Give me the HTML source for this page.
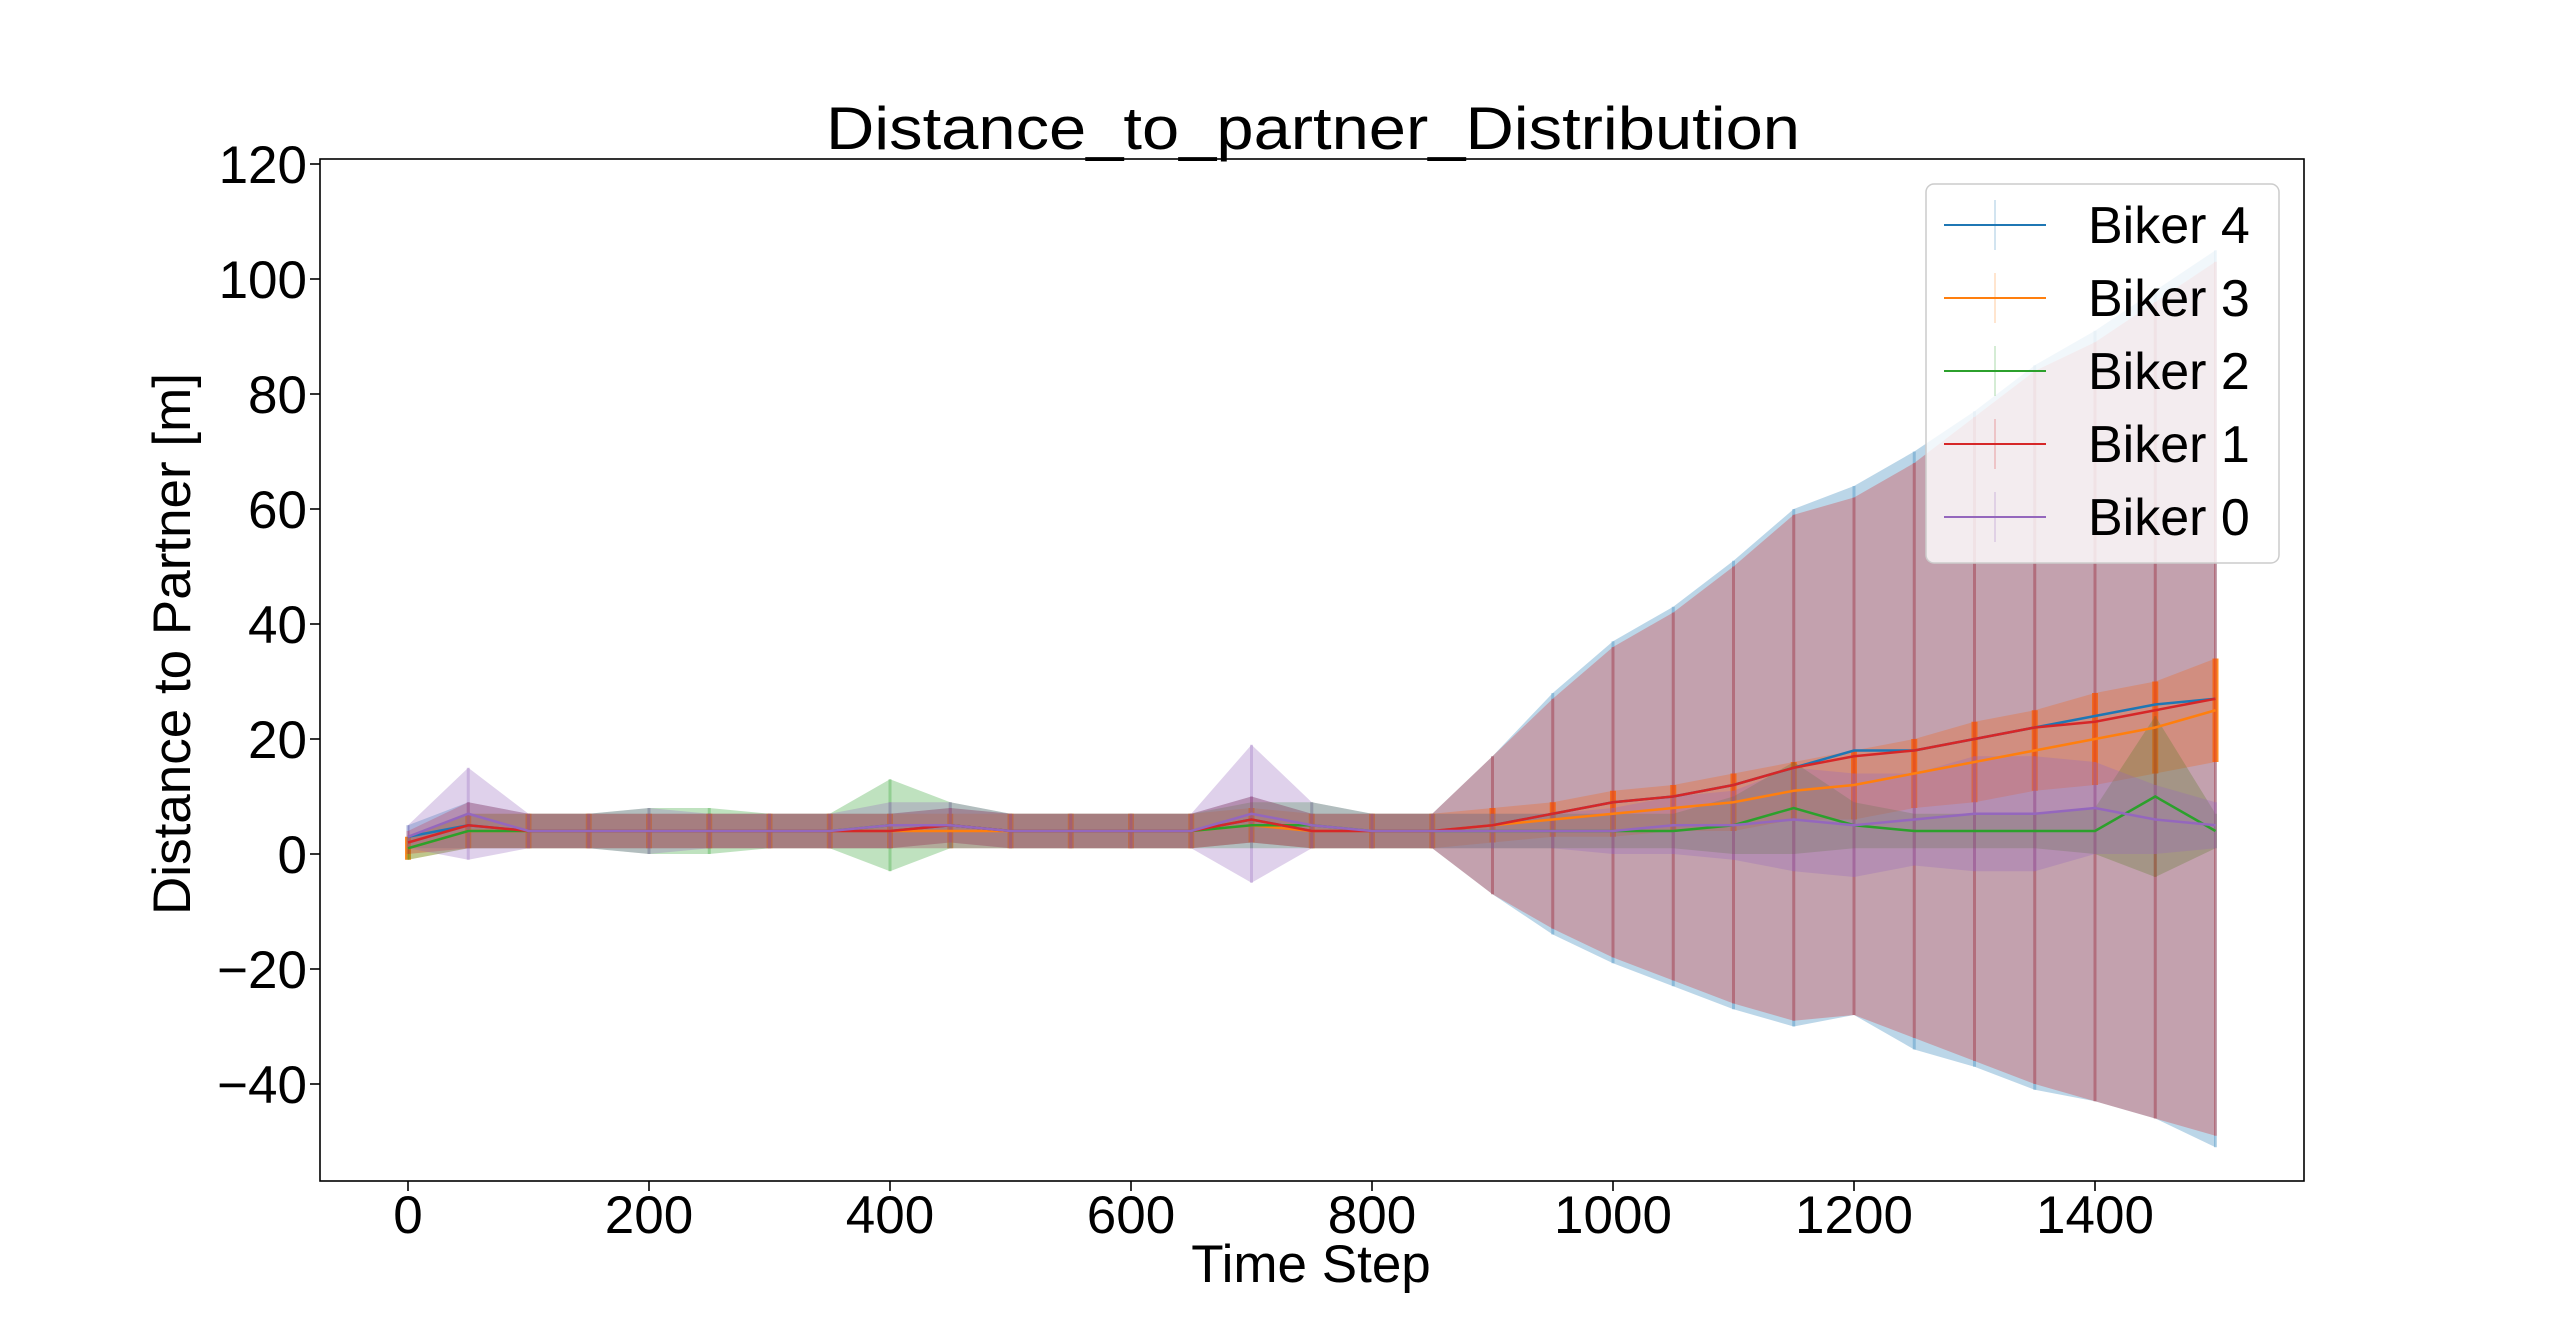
<!DOCTYPE html>
<html><head><meta charset="utf-8"><style>
html,body{margin:0;padding:0;background:#fff;}
svg{display:block;font-family:"Liberation Sans","DejaVu Sans",sans-serif;}
</style></head><body>
<svg id="chart" width="2560" height="1327" viewBox="0 0 2560 1327">
<text x="1313" y="149" font-size="60" text-anchor="middle" textLength="974" lengthAdjust="spacingAndGlyphs">Distance_to_partner_Distribution</text>
<g id="plot"></g>
<rect x="320" y="159" width="1984" height="1022" fill="none" stroke="#000" stroke-width="1.6"/>
<g id="ticks"></g>
<text x="1311" y="1282" font-size="53" text-anchor="middle">Time Step</text>
<text transform="translate(190,644) rotate(-90)" font-size="53" text-anchor="middle">Distance to Partner [m]</text>
<g id="legend"></g>
</svg>
<script>
const steps=[0,50,100,150,200,250,300,350,400,450,500,550,600,650,700,750,800,850,900,950,1000,1050,1100,1150,1200,1250,1300,1350,1400,1450,1500];
const names=["Biker 4","Biker 3","Biker 2","Biker 1","Biker 0"];
const colors=["#1f77b4","#ff7f0e","#2ca02c","#d62728","#9467bd"];
const mean4=[3,5,4,4,4,4,4,4,4,5,4,4,4,4,6,4,4,4,5,7,9,10,12,15,18,18,20,22,24,26,27];
const sd4=[2,4,3,3,3,3,3,3,3,3,3,3,3,3,4,3,3,3,12,21,28,33,39,45,46,52,57,63,67,72,78];
const mean3=[1,4,4,4,4,4,4,4,4,4,4,4,4,4,5,4,4,4,5,6,7,8,9,11,12,14,16,18,20,22,25];
const sd3=[2,3,3,3,3,3,3,3,3,3,3,3,3,3,3,3,3,3,3,3,4,4,5,5,6,6,7,7,8,8,9];
const mean2=[1,4,4,4,4,4,4,4,5,5,4,4,4,4,5,5,4,4,4,4,4,4,5,8,5,4,4,4,4,10,4];
const sd2=[2,3,3,3,4,4,3,3,8,4,3,3,3,3,4,4,3,3,3,3,3,3,5,8,4,3,3,3,4,14,3];
const mean1=[2,5,4,4,4,4,4,4,4,5,4,4,4,4,6,4,4,4,5,7,9,10,12,15,17,18,20,22,23,25,27];
const sd1=[2,4,3,3,3,3,3,3,3,3,3,3,3,3,4,3,3,3,12,20,27,32,38,44,45,50,56,62,66,71,76];
const mean0=[3,7,4,4,4,4,4,4,5,5,4,4,4,4,7,5,4,4,4,4,4,5,5,6,5,6,7,7,8,6,5];
const sd0=[2,8,3,3,4,3,3,3,4,4,3,3,3,3,12,4,3,3,3,3,4,5,6,9,9,8,10,10,8,6,4];
const xTicks=[0,200,400,600,800,1000,1200,1400];
const yTicks=[-40,-20,0,20,40,60,80,100,120];
const means=[mean4,mean3,mean2,mean1,mean0], sds=[sd4,sd3,sd2,sd1,sd0];
const NS="http://www.w3.org/2000/svg";
const X=v=>408+v*1.205, Y=v=>854-v*5.75;
function mk(t,a,p){const e=document.createElementNS(NS,t);for(const k in a)e.setAttribute(k,a[k]);p.appendChild(e);return e;}
const plot=document.getElementById('plot');
means.forEach((m,i)=>{
  const s=sds[i];
  let d="M"+steps.map((x,j)=>X(x)+","+Y(m[j]+s[j])).join(" L");
  d+=" L"+steps.slice().reverse().map((x,j)=>{const k=steps.length-1-j;return X(x)+","+Y(m[k]-s[k]);}).join(" L")+"Z";
  const p=mk('path',{d:d,fill:colors[i],'fill-opacity':0.3},plot);
  
  
  steps.forEach((x,j)=>{
    const l=mk('line',{x1:X(x),x2:X(x),y1:Y(m[j]+s[j]),y2:Y(m[j]-s[j]),stroke:colors[i],'stroke-opacity':i==1?0.9:0.3,'stroke-width':i==1?6:3},plot);
    
    
  });
});
means.forEach((m,i)=>{
  const pl=mk('polyline',{points:steps.map((x,j)=>X(x)+","+Y(m[j])).join(" "),fill:"none",stroke:colors[i],'stroke-width':2.5},plot);
  
  
});
const tk=document.getElementById('ticks');
xTicks.forEach(v=>{
  mk('line',{x1:X(v),x2:X(v),y1:1181,y2:1191,stroke:"#000",'stroke-width':1.6},tk);
  const t=mk('text',{x:X(v),y:1233,'font-size':53,'text-anchor':'middle'},tk);t.textContent=v;
  
  
});
yTicks.forEach(v=>{
  mk('line',{x1:310,x2:320,y1:Y(v),y2:Y(v),stroke:"#000",'stroke-width':1.6},tk);
  const t=mk('text',{x:307,y:Y(v)+19,'font-size':53,'text-anchor':'end'},tk);t.textContent=v<0?"\u2212"+(-v):v;
  
  
});
const lg=document.getElementById('legend');
mk('rect',{x:1926,y:184,width:353,height:379,rx:8,fill:"#fff",'fill-opacity':0.8,stroke:"#ccc",'stroke-width':1.5},lg);
names.forEach((n,i)=>{
  const y=225+i*73;
  const g=mk('g',{},lg);
  
  
  mk('line',{x1:1944,x2:2046,y1:y,y2:y,stroke:colors[i],'stroke-width':2},g);
  mk('line',{x1:1995,x2:1995,y1:y-25,y2:y+25,stroke:colors[i],'stroke-opacity':0.2,'stroke-width':2},g);
  const t=mk('text',{x:2088,y:y+18,'font-size':52},g);t.textContent=n;
});
</script>
</body></html>
